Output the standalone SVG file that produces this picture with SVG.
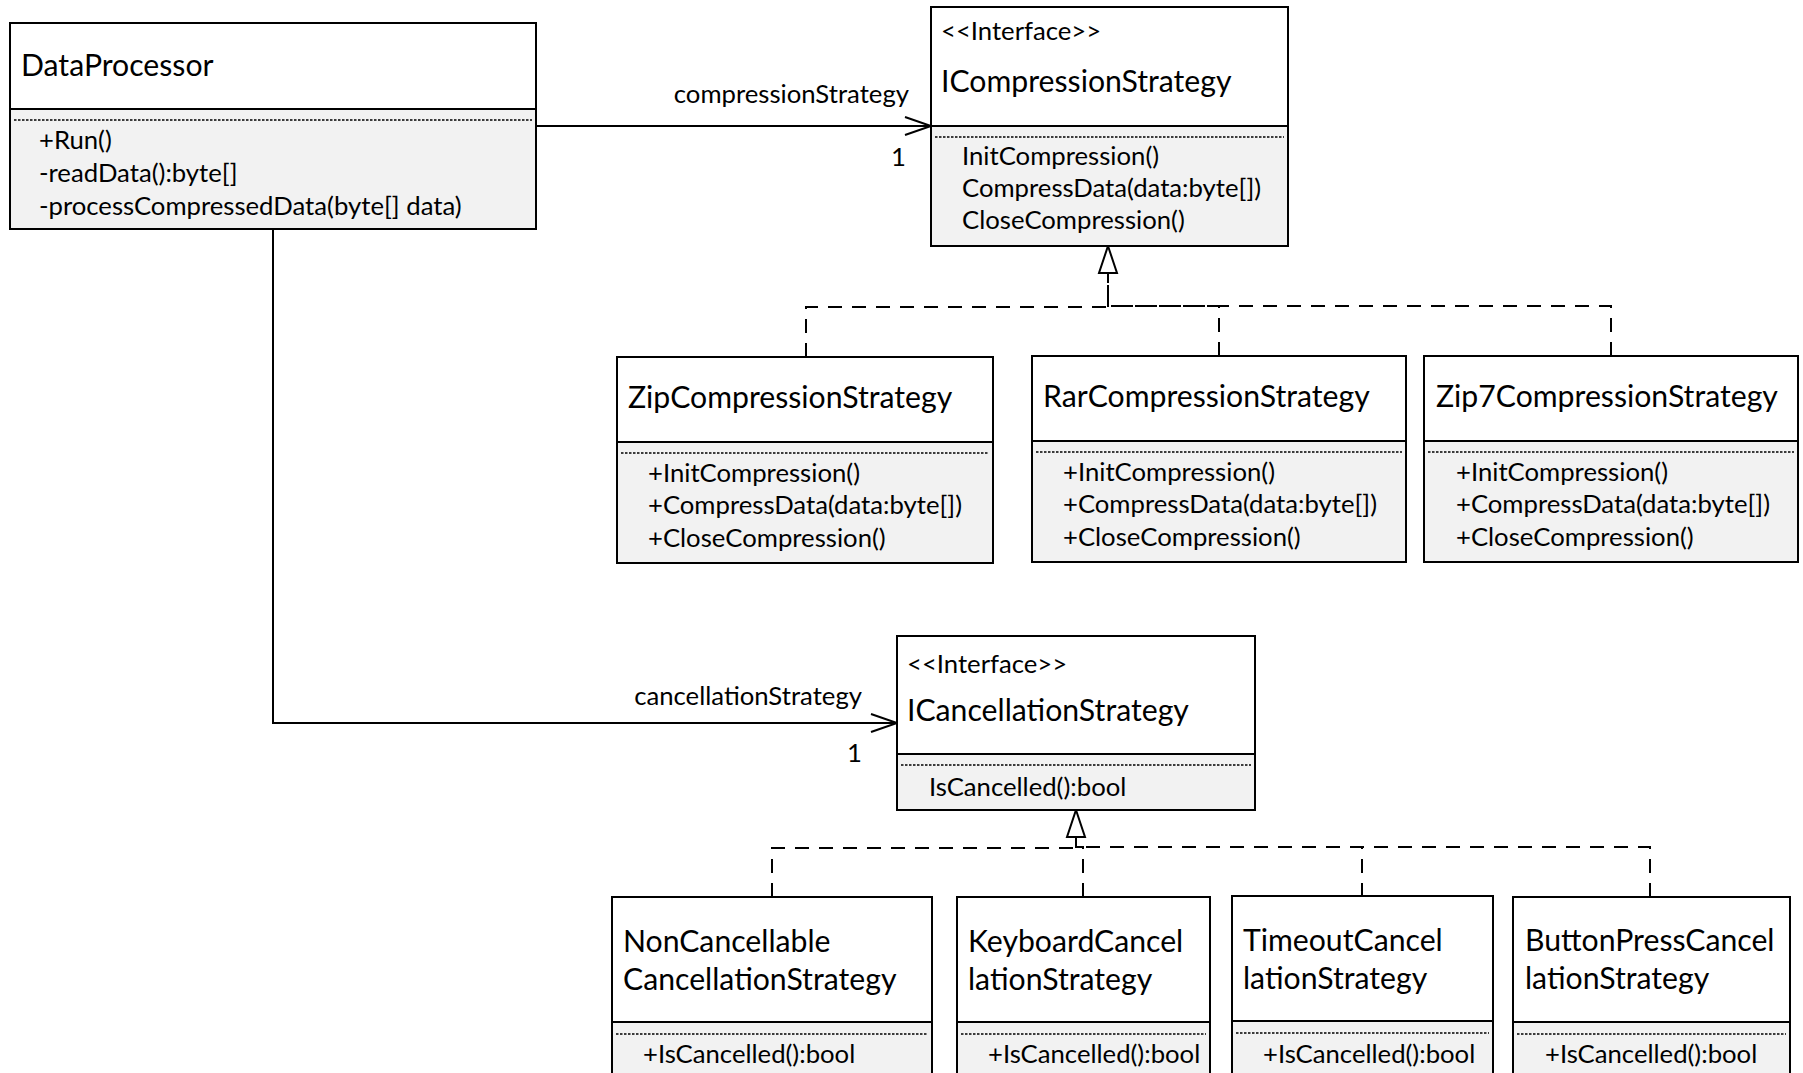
<svg xmlns="http://www.w3.org/2000/svg" xmlns:xlink="http://www.w3.org/1999/xlink" width="1803" height="1073" viewBox="0 0 1803 1073">
  <style>
    .hdr { fill: #ffffff; stroke: #000; stroke-width: 2; }
    .bdy { fill: #f2f2f2; stroke: #000; stroke-width: 2; }
    .sep { stroke: #000; stroke-width: 1.4; stroke-dasharray: 2.5 1.5; fill: none; }
    text { font-family: Lato, "Liberation Sans", sans-serif; fill: #000; }
    .name { font-size: 30.2px; }
    .mem { font-size: 25.7px; }
    .conn { fill: none; stroke: #000; stroke-width: 2; }
    .real { fill: none; stroke: #000; stroke-width: 2; stroke-dasharray: 14 10; }
    .tri { fill: #fff; stroke: #000; stroke-width: 2; }
  </style>
  <defs>
    <marker id="open-arrow" markerUnits="userSpaceOnUse" markerWidth="30" markerHeight="22" refX="27" refY="10" orient="auto">
      <path d="M1,1 L27,10 L1,19" fill="none" stroke="#000" stroke-width="2"/>
    </marker>
    <!-- hollow triangle of a realization, apex at 0,0 -->
    <path id="realize-head" d="M0,0 L9,27 L-9,27 Z"/>
  </defs>

  <rect width="1803" height="1073" fill="#fff"/>

  <g id="connectors">
    <!-- associations -->
    <line class="conn" x1="536" y1="126" x2="931" y2="126" marker-end="url(#open-arrow)"/>
    <text class="mem" x="909" y="103" text-anchor="end">compressionStrategy</text>
    <text class="mem" x="906" y="166" text-anchor="end">1</text>

    <polyline class="conn" points="273,229 273,723 897,723" marker-end="url(#open-arrow)"/>
    <text class="mem" x="862" y="705" text-anchor="end">cancellationStrategy</text>
    <text class="mem" x="862" y="762" text-anchor="end">1</text>

    <!-- realizations of ICompressionStrategy -->
    <polyline class="real" points="806,357 806,307 1108,307 1108,273"/>
    <polyline class="real" points="1219,356 1219,306 1108,306 1108,273"/>
    <polyline class="real" points="1611,356 1611,306 1108,306 1108,273"/>
    <use xlink:href="#realize-head" class="tri" x="1108" y="246"/>

    <!-- realizations of ICancellationStrategy -->
    <polyline class="real" points="772,897 772,848 1076,848 1076,837"/>
    <polyline class="real" points="1083,897 1083,847 1076,847 1076,837"/>
    <polyline class="real" points="1362,897 1362,847 1076,847 1076,837"/>
    <polyline class="real" points="1650,897 1650,847 1076,847 1076,837"/>
    <use xlink:href="#realize-head" class="tri" x="1076" y="810"/>
  </g>

  <g id="DataProcessor">
    <rect class="hdr" x="10" y="23" width="526" height="86"/>
    <rect class="bdy" x="10" y="109" width="526" height="120"/>
    <line class="sep" x1="14" y1="120" x2="532" y2="120"/>
    <text class="name" x="21" y="76">DataProcessor</text>
    <text class="mem" x="39" y="149">+Run()</text>
    <text class="mem" x="39" y="182">-readData():byte[]</text>
    <text class="mem" x="39" y="215">-processCompressedData(byte[] data)</text>
  </g>

  <g id="ICompressionStrategy">
    <rect class="hdr" x="931" y="7" width="357" height="119"/>
    <rect class="bdy" x="931" y="126" width="357" height="120"/>
    <line class="sep" x1="935" y1="137" x2="1284" y2="137"/>
    <text class="mem" x="941" y="40">&lt;&lt;Interface&gt;&gt;</text>
    <text class="name" x="941" y="92">ICompressionStrategy</text>
    <text class="mem" x="962" y="165">InitCompression()</text>
    <text class="mem" x="962" y="197">CompressData(data:byte[])</text>
    <text class="mem" x="962" y="229">CloseCompression()</text>
  </g>

  <g id="ZipCompressionStrategy">
    <rect class="hdr" x="617" y="357" width="376" height="85"/>
    <rect class="bdy" x="617" y="442" width="376" height="121"/>
    <line class="sep" x1="621" y1="453" x2="989" y2="453"/>
    <text class="name" x="628" y="408">ZipCompressionStrategy</text>
    <text class="mem" x="648" y="482">+InitCompression()</text>
    <text class="mem" x="648" y="514">+CompressData(data:byte[])</text>
    <text class="mem" x="648" y="547">+CloseCompression()</text>
  </g>

  <g id="RarCompressionStrategy">
    <rect class="hdr" x="1032" y="356" width="374" height="85"/>
    <rect class="bdy" x="1032" y="441" width="374" height="121"/>
    <line class="sep" x1="1036" y1="452" x2="1402" y2="452"/>
    <text class="name" x="1043" y="407">RarCompressionStrategy</text>
    <text class="mem" x="1063" y="481">+InitCompression()</text>
    <text class="mem" x="1063" y="513">+CompressData(data:byte[])</text>
    <text class="mem" x="1063" y="546">+CloseCompression()</text>
  </g>

  <g id="Zip7CompressionStrategy">
    <rect class="hdr" x="1424" y="356" width="374" height="85"/>
    <rect class="bdy" x="1424" y="441" width="374" height="121"/>
    <line class="sep" x1="1428" y1="452" x2="1794" y2="452"/>
    <text class="name" x="1436" y="407">Zip7CompressionStrategy</text>
    <text class="mem" x="1456" y="481">+InitCompression()</text>
    <text class="mem" x="1456" y="513">+CompressData(data:byte[])</text>
    <text class="mem" x="1456" y="546">+CloseCompression()</text>
  </g>

  <g id="ICancellationStrategy">
    <rect class="hdr" x="897" y="636" width="358" height="118"/>
    <rect class="bdy" x="897" y="754" width="358" height="56"/>
    <line class="sep" x1="901" y1="765" x2="1251" y2="765"/>
    <text class="mem" x="907" y="673">&lt;&lt;Interface&gt;&gt;</text>
    <text class="name" x="907" y="721">ICancellationStrategy</text>
    <text class="mem" x="929" y="796">IsCancelled():bool</text>
  </g>

  <g id="NonCancellableCancellationStrategy">
    <rect class="hdr" x="612" y="897" width="320" height="125"/>
    <rect class="bdy" x="612" y="1022" width="320" height="60"/>
    <line class="sep" x1="616" y1="1034" x2="928" y2="1034"/>
    <text class="name" x="623" y="952">NonCancellable</text>
    <text class="name" x="623" y="990">CancellationStrategy</text>
    <text class="mem" x="643" y="1063">+IsCancelled():bool</text>
  </g>

  <g id="KeyboardCancellationStrategy">
    <rect class="hdr" x="957" y="897" width="253" height="125"/>
    <rect class="bdy" x="957" y="1022" width="253" height="60"/>
    <line class="sep" x1="961" y1="1034" x2="1206" y2="1034"/>
    <text class="name" x="968" y="952">KeyboardCancel</text>
    <text class="name" x="968" y="990">lationStrategy</text>
    <text class="mem" x="988" y="1063">+IsCancelled():bool</text>
  </g>

  <g id="TimeoutCancellationStrategy">
    <rect class="hdr" x="1232" y="896" width="261" height="125"/>
    <rect class="bdy" x="1232" y="1021" width="261" height="61"/>
    <line class="sep" x1="1236" y1="1033" x2="1489" y2="1033"/>
    <text class="name" x="1243" y="951">TimeoutCancel</text>
    <text class="name" x="1243" y="989">lationStrategy</text>
    <text class="mem" x="1263" y="1063">+IsCancelled():bool</text>
  </g>

  <g id="ButtonPressCancellationStrategy">
    <rect class="hdr" x="1513" y="897" width="277" height="125"/>
    <rect class="bdy" x="1513" y="1022" width="277" height="60"/>
    <line class="sep" x1="1517" y1="1034" x2="1786" y2="1034"/>
    <text class="name" x="1525" y="951">ButtonPressCancel</text>
    <text class="name" x="1525" y="989">lationStrategy</text>
    <text class="mem" x="1545" y="1063">+IsCancelled():bool</text>
  </g>
</svg>
